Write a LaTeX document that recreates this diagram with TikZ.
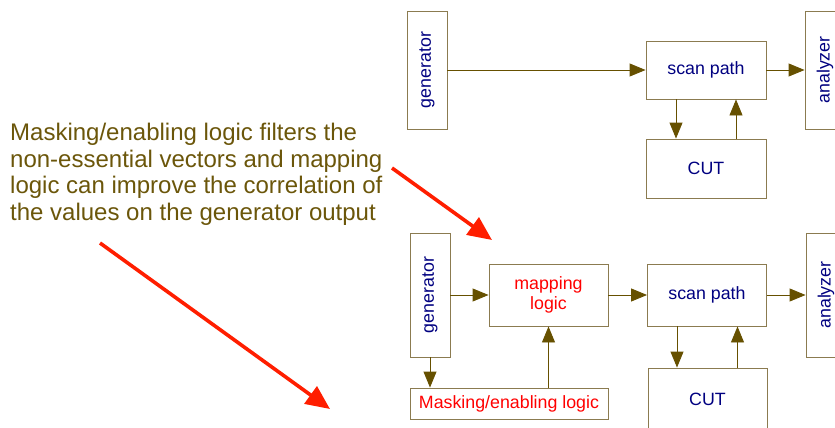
\documentclass[tikz,border=0pt]{standalone}
\usepackage{fontspec}
\setmainfont{Liberation Sans}
\usetikzlibrary{arrows.meta}

\tikzset{
    blk/.style={draw=mybox, line width=0.9pt, inner sep=0pt, text=mytxt,
        font=\fontsize{17.8}{20}\selectfont, align=center},
    vblk/.style={blk, rotate=90},
    flow/.style={draw=myarr, line width=0.9pt, -{Triangle[length=16pt,width=13pt]}},
    hint/.style={draw=myred, line width=3.6pt, -{Triangle[length=24pt,width=21pt]}},
}

\begin{document}
\begin{tikzpicture}[x=1pt, y=-1pt]
    \definecolor{mybox}{RGB}{139,123,80}
    \definecolor{myarr}{RGB}{102,80,0}
    \definecolor{mytxt}{RGB}{0,0,128}
    \definecolor{myred}{RGB}{255,30,0}
    \definecolor{mynote}{RGB}{107,86,10}

    \useasboundingbox (0,0) rectangle (835,428);
    \clip (0,0) rectangle (835,428);

    % upper chain
    \node[vblk, minimum width=118pt, minimum height=40pt] (gen1) at (427,70) {generator};
    \node[blk, minimum width=120pt, minimum height=58pt] (scan1) at (706,70) {scan path};
    \node[vblk, minimum width=118pt, minimum height=40pt] (ana1) at (825,70) {analyzer};
    \node[blk, minimum width=120pt, minimum height=59pt] (cut1) at (706,168.5) {CUT};

    \draw[flow] (gen1) -- (scan1);
    \draw[flow] (scan1) -- (ana1);
    \draw[flow] ([xshift=-30pt]scan1.south) -- ([xshift=-30pt]scan1.south |- cut1.north);
    \draw[flow] ([xshift=30pt]cut1.north) -- ([xshift=30pt]cut1.north |- scan1.south);

    % lower chain
    \node[vblk, minimum width=124pt, minimum height=40pt] (gen2) at (430,295) {generator};
    \node[blk, minimum width=119pt, minimum height=62pt, text=red] (map) at (548.5,295) {mapping\\logic};
    \node[blk, minimum width=119pt, minimum height=62pt] (scan2) at (707,295) {scan path};
    \node[vblk, minimum width=124pt, minimum height=40pt] (ana2) at (826,295) {analyzer};
    \node[blk, minimum width=119pt, minimum height=62pt] (cut2) at (707.5,399) {CUT};
    \node[blk, minimum width=198pt, minimum height=31pt, text=red] (mask) at (509,403.5) {Masking/enabling logic};

    \draw[flow] (gen2) -- (map);
    \draw[flow] (map) -- (scan2);
    \draw[flow] (scan2) -- (ana2);
    \draw[flow] (gen2) -- (gen2 |- mask.north);
    \draw[flow] (map |- mask.north) -- (map);
    \draw[flow] ([xshift=-30pt]scan2.south) -- ([xshift=-30pt]scan2.south |- cut2.north);
    \draw[flow] ([xshift=30pt]cut2.north) -- ([xshift=30pt]cut2.north |- scan2.south);

    % note
    \node[anchor=north west, inner sep=0pt, text=mynote, align=left,
        font=\fontsize{24}{26.5}\selectfont] (note) at (10,123)
        {Masking/enabling logic filters the\\non-essential vectors and mapping\\logic can improve the correlation of\\the values on the generator output};

    \coordinate (p1) at (392,168);
    \coordinate (q1) at (492,240);
    \coordinate (p2) at (100,243);
    \coordinate (q2) at (330,409);
    \draw[hint] (p1) -- (q1);
    \draw[hint] (p2) -- (q2);
\end{tikzpicture}
\end{document}
